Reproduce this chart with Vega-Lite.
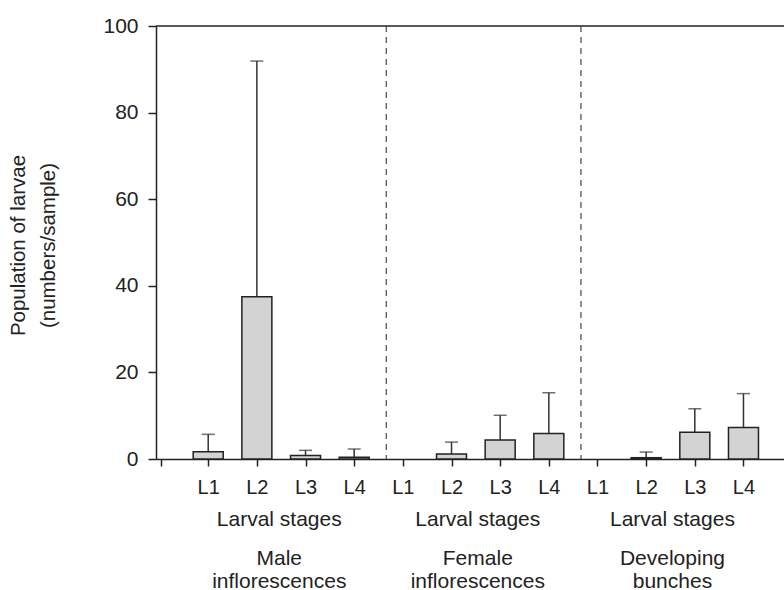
{
  "$schema": "https://vega.github.io/schema/vega-lite/v6.json",
  "width": 628,
  "height": 433,
  "autosize": {"type": "none"},
  "padding": {"left": 156, "top": 26, "right": 0, "bottom": 131},
  "background": "white",
  "config": {
    "view": {"stroke": null},
    "font": "Liberation Sans",
    "axis": {
      "grid": false,
      "domainColor": "#222222",
      "domainWidth": 1.5,
      "tickColor": "#222222",
      "tickWidth": 1.5,
      "labelColor": "#222222",
      "labelFont": "Liberation Sans",
      "titleFont": "Liberation Sans",
      "titleColor": "#222222",
      "labelOverlap": false,
      "labelFlush": false,
      "labelBound": false
    }
  },
  "datasets": {
    "larvae": [
      {"index": 1, "group": "Male inflorescences", "stage": "L1", "mean": 1.7, "upper": 5.7},
      {"index": 2, "group": "Male inflorescences", "stage": "L2", "mean": 37.5, "upper": 91.9},
      {"index": 3, "group": "Male inflorescences", "stage": "L3", "mean": 0.8, "upper": 2.0},
      {"index": 4, "group": "Male inflorescences", "stage": "L4", "mean": 0.4, "upper": 2.3},
      {"index": 5, "group": "Female inflorescences", "stage": "L1", "mean": 0, "upper": null},
      {"index": 6, "group": "Female inflorescences", "stage": "L2", "mean": 1.15, "upper": 3.9},
      {"index": 7, "group": "Female inflorescences", "stage": "L3", "mean": 4.4, "upper": 10.1},
      {"index": 8, "group": "Female inflorescences", "stage": "L4", "mean": 5.9, "upper": 15.3},
      {"index": 9, "group": "Developing bunches", "stage": "L1", "mean": 0, "upper": null},
      {"index": 10, "group": "Developing bunches", "stage": "L2", "mean": 0.3, "upper": 1.6},
      {"index": 11, "group": "Developing bunches", "stage": "L3", "mean": 6.2, "upper": 11.6},
      {"index": 12, "group": "Developing bunches", "stage": "L4", "mean": 7.3, "upper": 15.1}
    ]
  },
  "data": {"name": "larvae"},
  "layer": [
    {
      "data": {"values": [{}]},
      "mark": {"type": "rule", "color": "#555555", "strokeWidth": 1.3, "strokeDash": [6, 5]},
      "encoding": {
        "x": {"datum": 4.66, "type": "quantitative", "scale": {"domain": [0.03, 12.73], "nice": false, "zero": false}, "axis": null}
      }
    },
    {
      "data": {"values": [{}]},
      "mark": {"type": "rule", "color": "#555555", "strokeWidth": 1.3, "strokeDash": [6, 5]},
      "encoding": {
        "x": {"datum": 8.66, "type": "quantitative", "axis": null}
      }
    },
    {
      "data": {"values": [{}]},
      "mark": {"type": "rule", "color": "#222222", "strokeWidth": 1.5},
      "encoding": {
        "y": {"datum": 100, "type": "quantitative"}
      }
    },
    {
      "transform": [{"filter": "isValid(datum.upper)"}],
      "mark": {"type": "rule", "color": "#333333", "strokeWidth": 1.5},
      "encoding": {
        "x": {
          "field": "index", "type": "quantitative",
          "axis": {
            "orient": "bottom",
            "values": [2.45, 6.53, 10.53],
            "labelExpr": "'Larval stages'",
            "ticks": false,
            "tickSize": 0,
            "domain": false,
            "labelPadding": 49,
            "labelFontSize": 21,
            "title": null
          }
        },
        "y": {"field": "mean", "type": "quantitative"},
        "y2": {"field": "upper"}
      }
    },
    {
      "transform": [{"filter": "isValid(datum.upper)"}],
      "mark": {"type": "tick", "orient": "horizontal", "size": 13, "thickness": 1.5, "color": "#333333"},
      "encoding": {
        "x": {
          "field": "index", "type": "quantitative",
          "axis": {
            "orient": "bottom",
            "values": [2.45, 6.53, 10.53],
            "labelExpr": "datum.value < 4 ? ['Male', 'inflorescences'] : datum.value < 8 ? ['Female', 'inflorescences'] : ['Developing', 'bunches']",
            "ticks": false,
            "tickSize": 0,
            "domain": false,
            "labelPadding": 88,
            "labelFontSize": 21,
            "labelLineHeight": 23,
            "title": null
          }
        },
        "y": {"field": "upper", "type": "quantitative"}
      }
    },
    {
      "transform": [{"filter": "datum.mean > 0"}],
      "mark": {"type": "bar", "size": 30, "fill": "#d3d3d3", "stroke": "#222222", "strokeWidth": 1.5},
      "encoding": {
        "x": {
          "field": "index", "type": "quantitative",
          "axis": {
            "orient": "bottom",
            "values": [0.03, 1, 2, 3, 4, 5, 6, 7, 8, 9, 10, 11, 12],
            "labelExpr": "datum.value < 0.5 ? '' : 'L' + (((datum.value - 1) % 4) + 1)",
            "tickSize": 7,
            "labelPadding": 11,
            "labelFontSize": 20,
            "title": null
          }
        },
        "y": {
          "field": "mean", "type": "quantitative",
          "scale": {"domain": [0, 100], "nice": false, "zero": true},
          "axis": {
            "values": [0, 20, 40, 60, 80, 100],
            "tickSize": 8,
            "labelPadding": 10,
            "labelFontSize": 21,
            "title": ["Population of larvae", "(numbers/sample)"],
            "titleFontSize": 20.5,
            "titleFontWeight": "normal",
            "titleLineHeight": 30,
            "titleAngle": -90,
            "titleAlign": "center",
            "titleBaseline": "middle",
            "titleX": -138,
            "titleY": 219
          }
        }
      }
    }
  ],
  "resolve": {"axis": {"x": "independent"}}
}
